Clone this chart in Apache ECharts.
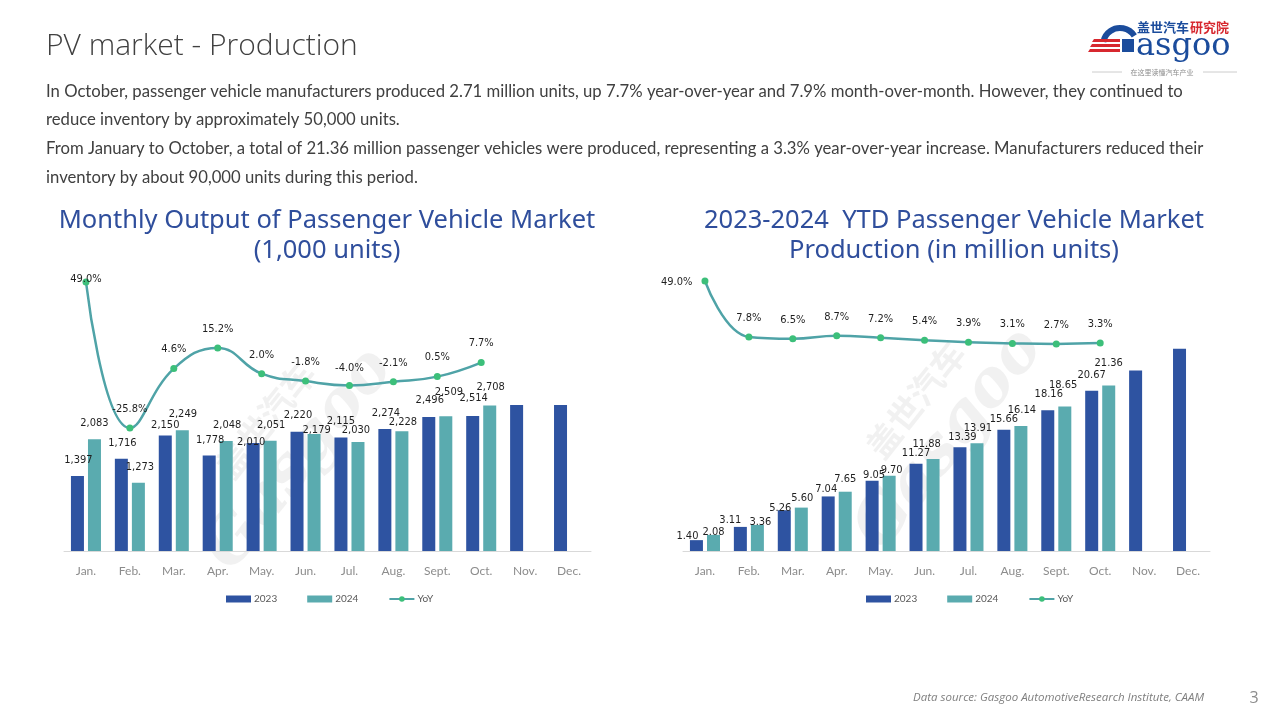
<!DOCTYPE html>
<html><head><meta charset="utf-8">
<script src="https://cdn.jsdelivr.net/npm/echarts@6/dist/echarts.min.js"></script>
<style>html,body{margin:0;padding:0;background:#fff;}#c{width:1280px;height:720px;}</style>
</head><body><div id="c"></div>
<script>
// ---- data ----
const months = ['Jan.','Feb.','Mar.','Apr.','May.','Jun.','Jul.','Aug.','Sept.','Oct.','Nov.','Dec.'];
const monthly2023 = [1397,1716,2150,1778,2010,2220,2115,2274,2496,2514,2720,2720];
const monthly2024 = [2083,1273,2249,2048,2051,2179,2030,2228,2509,2708,null,null];
const monthlyYoY = [49.0,-25.8,4.6,15.2,2.0,-1.8,-4.0,-2.1,0.5,7.7,null,null];
const ytd2023 = [1.40,3.11,5.26,7.04,9.05,11.27,13.39,15.66,18.16,20.67,23.3,26.1];
const ytd2024 = [2.08,3.36,5.60,7.65,9.70,11.88,13.91,16.14,18.65,21.36,null,null];
const ytdYoY = [49.0,7.8,6.5,8.7,7.2,5.4,3.9,3.1,2.7,3.3,null,null];
const labeledCount = 10; // Nov./Dec. bars carry no labels

// ---- label nudges [dx, centre above bar top] ----
const nudgeL23 = [[1,16],[1,16],[0,10],[1,15.5],[-2,1],[1,17],[0,16],[1,16],[1,17],[1,18]];
const nudgeL24 = [[0,16],[1.5,16],[0.5,16],[1,16],[1,16],[2.5,4],[-2,12],[1,9],[3,24],[1,18]];
const nudgeR23 = [[-9,4],[-10,7],[-4,2],[-2,7],[2,6],[0,11],[2.5,10],[0,10.6],[1,16],[0,16]];
const nudgeR24 = [[0,3],[3,3],[1,9.6],[0,12.7],[2.5,5.5],[-6.5,15],[1,15.5],[1,16],[-1.7,21.5],[0,22.5]];

const C23 = '#2E53A1', C24 = '#5AABAF', CLINE = '#4FA3A7', CDOT = '#3CBF7A';
const LABEL_FONT = 'DejaVu Sans Condensed';

function barData(vals, nudges, fmt) {
  return vals.map((v, i) => {
    if (v == null) return '-';
    if (i >= labeledCount) return { value: v, label: { show: false } };
    const n = nudges[i];
    return { value: v, label: { show: true, offset: [n[0], -n[1]], formatter: fmt(v) } };
  });
}
function lineData(vals, special) {
  return vals.map((v, i) => {
    if (v == null) return '-';
    const s = special[i];
    return s ? { value: v, label: s } : v;
  });
}
const fmtK = v => v.toLocaleString('en-US');
const fmtM = v => v.toFixed(2);

const barLabel = { show: true, position: 'top', distance: 0, verticalAlign: 'middle', align: 'center',
  fontFamily: LABEL_FONT, fontSize: 11, color: '#1F1F1F' };
const lineLabel = { show: true, position: 'top', distance: 0, offset: [0, -10],
  fontFamily: LABEL_FONT, fontSize: 11, color: '#1F1F1F', formatter: p => p.value.toFixed(1) + '%' };

const chart = echarts.init(document.getElementById('c'));
const xAxisBase = {
  type: 'category', data: months,
  axisLine: { lineStyle: { color: '#D9D9D9', width: 1 } },
  axisTick: { show: false },
  axisLabel: { color: '#8C8C8C', fontFamily: 'Lato', fontSize: 12, margin: 14 }
};
const hiddenY = { type: 'value', show: false, splitLine: { show: false } };

const bodyLines = [
  'In October, passenger vehicle manufacturers produced 2.71 million units, up 7.7% year-over-year and 7.9% month-over-month. However, they continued to',
  'reduce inventory by approximately 50,000 units.',
  'From January to October, a total of 21.36 million passenger vehicles were produced, representing a 3.3% year-over-year increase. Manufacturers reduced their',
  'inventory by about 90,000 units during this period.'
];
const bodyY = [92, 120, 149, 178];

function watermark(cx, cy) {
  const fill = 'rgba(200,200,200,0.26)';
  return {
    type: 'group', x: cx, y: cy, rotation: 0.9, z: 100, silent: true,
    children: [
      { type: 'text', x: 0, y: 0, style: { text: 'Gasgoo', font: 'italic bold 64px "DejaVu Serif"', fill: fill, align: 'center', verticalAlign: 'middle' } },
      { type: 'text', x: 10, y: -52, style: { text: '盖世汽车', font: 'bold 34px "Noto Sans CJK SC"', fill: fill, align: 'center', verticalAlign: 'middle' } }
    ]
  };
}

const graphics = [
  { type: 'text', x: 46, y: 46, style: { text: 'PV market - Production', font: '300 30px "Open Sans"', fill: '#404040', verticalAlign: 'middle' } },
  ...bodyLines.map((t, i) => ({ type: 'text', x: 46, y: bodyY[i], style: { text: t, font: '16.7px Lato', fill: '#404040', verticalAlign: 'middle' } })),
  // logo
  { type: 'text', x: 1137, y: 27, style: { text: '盖世汽车', font: 'bold 13px "Noto Sans CJK SC"', fill: '#1B4C9C', verticalAlign: 'middle' } },
  { type: 'text', x: 1190, y: 27, style: { text: '研究院', font: 'bold 13px "Noto Sans CJK SC"', fill: '#D7282F', verticalAlign: 'middle' } },
  { type: 'text', x: 1136, y: 47, style: { text: 'asgoo', font: '32px "DejaVu Serif"', fill: '#1B4C9C', verticalAlign: 'middle' } },
  { type: 'arc', shape: { cx: 1120, cy: 45, r: 17, startAngle: Math.PI * 1.06, endAngle: Math.PI * 1.82 }, style: { stroke: '#1B4C9C', lineWidth: 6, fill: null } },
  { type: 'rect', shape: { x: 1122, y: 39, width: 12, height: 13 }, style: { fill: '#1B4C9C' } },
  { type: 'polygon', shape: { points: [[1094, 39], [1120, 39], [1120, 42], [1092, 42]] }, style: { fill: '#D7282F' } },
  { type: 'polygon', shape: { points: [[1092, 44], [1120, 44], [1120, 47], [1090, 47]] }, style: { fill: '#D7282F' } },
  { type: 'polygon', shape: { points: [[1090, 49], [1120, 49], [1120, 52], [1088, 52]] }, style: { fill: '#D7282F' } },
  { type: 'line', shape: { x1: 1092, y1: 72, x2: 1122, y2: 72 }, style: { stroke: '#BFBFBF', lineWidth: 0.8 } },
  { type: 'line', shape: { x1: 1203, y1: 72, x2: 1237, y2: 72 }, style: { stroke: '#BFBFBF', lineWidth: 0.8 } },
  { type: 'text', x: 1162, y: 72, style: { text: '在这里读懂汽车产业', font: '7px "Noto Sans CJK SC"', fill: '#8C8C8C', align: 'center', verticalAlign: 'middle' } },
  // watermarks
  watermark(300, 460),
  watermark(950, 440),
  // footer
  { type: 'text', x: 1204, y: 698, style: { text: 'Data source: Gasgoo AutomotiveResearch Institute, CAAM', font: 'italic 11.5px "Open Sans"', fill: '#7F7F7F', align: 'right', verticalAlign: 'middle' } },
  { type: 'text', x: 1254, y: 698, style: { text: '3', font: '16px "Open Sans"', fill: '#8C8C8C', align: 'center', verticalAlign: 'middle' } }
];

const legendBase = {
  top: 589, itemWidth: 25, itemHeight: 7, itemGap: 30,
  textStyle: { color: '#595959', fontFamily: 'Lato', fontSize: 10, padding: [0, 0, 0, -2] }
};

const titleStyle = { color: '#2F4E9C', fontFamily: 'Noto Sans', fontSize: 25.5, fontWeight: 'normal', lineHeight: 30 };

chart.setOption({
  animation: false,
  title: [
    { text: 'Monthly Output of Passenger Vehicle Market\n(1,000 units)', left: 322, top: 201, textAlign: 'center', textStyle: titleStyle },
    { text: '2023-2024  YTD Passenger Vehicle Market\nProduction (in million units)', left: 949, top: 201, textAlign: 'center', textStyle: titleStyle }
  ],
  legend: [
    Object.assign({}, legendBase, { left: 221, data: [
      { name: '2023', icon: 'rect' }, { name: '2024', icon: 'rect' }, { name: 'YoY' }] }),
    Object.assign({}, legendBase, { left: 861, data: [
      { name: '2023', icon: 'rect' }, { name: '2024', icon: 'rect' }, { name: 'YoY' }] })
  ],
  grid: [
    { left: 64, right: 689, top: 270, bottom: 169 },
    { left: 683, right: 70, top: 270, bottom: 169 }
  ],
  xAxis: [
    Object.assign({}, xAxisBase, { gridIndex: 0 }),
    Object.assign({}, xAxisBase, { gridIndex: 1 })
  ],
  yAxis: [
    Object.assign({}, hiddenY, { gridIndex: 0, min: 0, max: 5233 }),
    Object.assign({}, hiddenY, { gridIndex: 0, min: -88.8, max: 55.1 }),
    Object.assign({}, hiddenY, { gridIndex: 1, min: 0, max: 36.26 }),
    Object.assign({}, hiddenY, { gridIndex: 1, min: -149.7, max: 57.1 })
  ],
  series: [
    { name: '2023', type: 'bar', xAxisIndex: 0, yAxisIndex: 0, barWidth: 13, barGap: '31%',
      itemStyle: { color: C23 }, label: barLabel, data: barData(monthly2023, nudgeL23, fmtK) },
    { name: '2024', type: 'bar', xAxisIndex: 0, yAxisIndex: 0, barWidth: 13, barGap: '31%',
      itemStyle: { color: C24 }, label: barLabel, data: barData(monthly2024, nudgeL24, fmtK) },
    { name: 'YoY', type: 'line', xAxisIndex: 0, yAxisIndex: 1, smooth: 0.45, symbol: 'circle', symbolSize: 7,
      lineStyle: { color: CLINE, width: 2.5 }, itemStyle: { color: CDOT }, label: lineLabel, z: 5,
      data: lineData(monthlyYoY, { 0: { offset: [0, 6] }, 6: { offset: [0, -8] } }) },
    { name: '2023', type: 'bar', xAxisIndex: 1, yAxisIndex: 2, barWidth: 13, barGap: '31%',
      itemStyle: { color: C23 }, label: barLabel, data: barData(ytd2023, nudgeR23, fmtM) },
    { name: '2024', type: 'bar', xAxisIndex: 1, yAxisIndex: 2, barWidth: 13, barGap: '31%',
      itemStyle: { color: C24 }, label: barLabel, data: barData(ytd2024, nudgeR24, fmtM) },
    { name: 'YoY', type: 'line', xAxisIndex: 1, yAxisIndex: 3, smooth: 0.45, symbol: 'circle', symbolSize: 7,
      lineStyle: { color: CLINE, width: 2.5 }, itemStyle: { color: CDOT }, label: lineLabel, z: 5,
      data: lineData(ytdYoY, { 0: { position: 'left', distance: 9, offset: [0, 1] } }) }
  ],
  graphic: graphics
});
</script></body></html>
